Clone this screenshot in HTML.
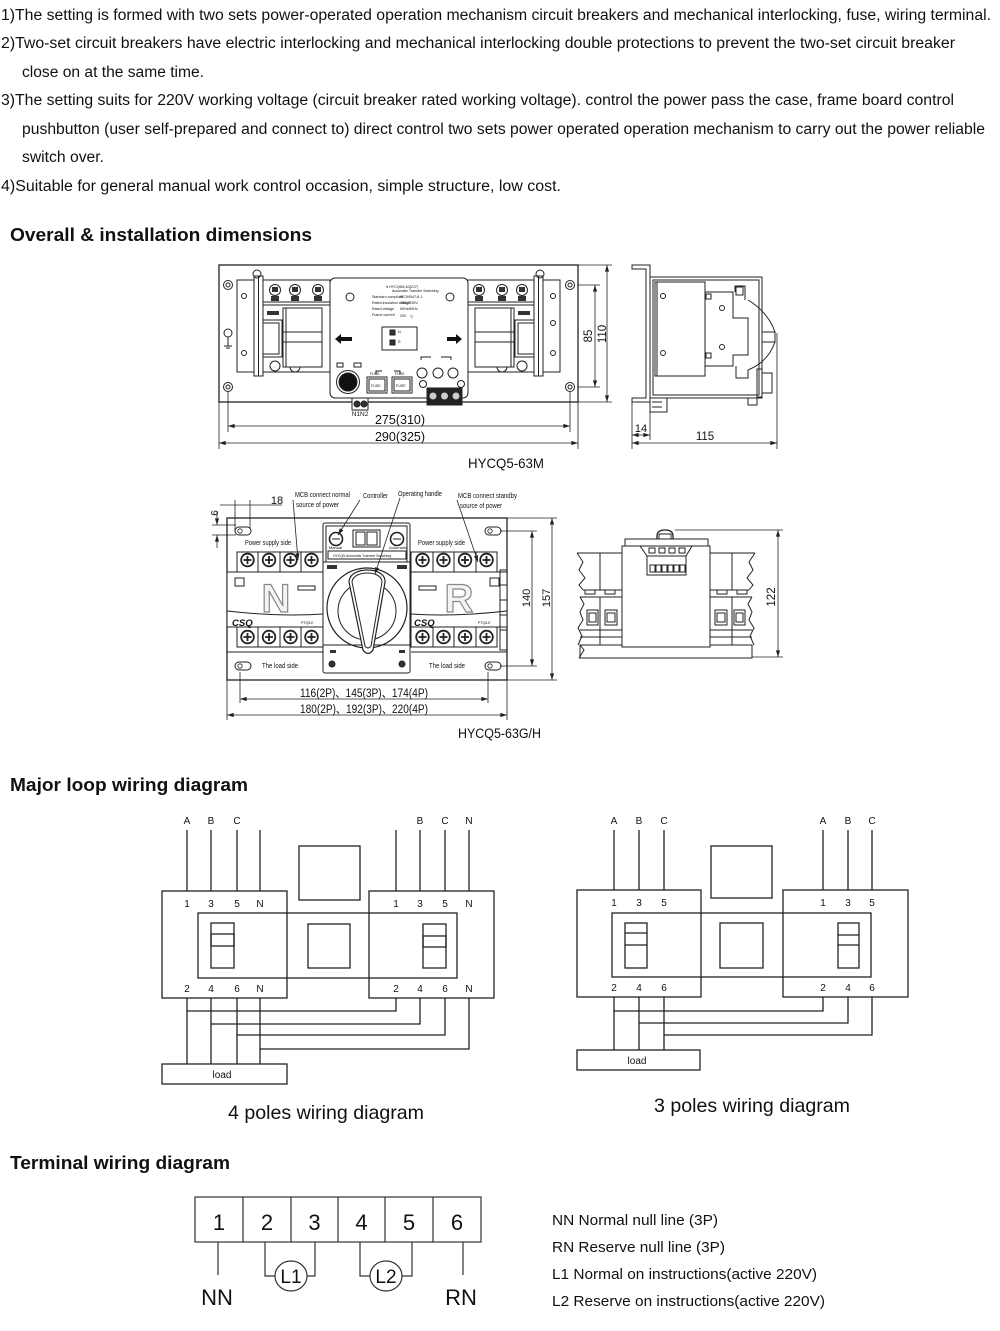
<!DOCTYPE html>
<html><head><meta charset="utf-8"><style>
html,body{margin:0;padding:0;background:#fff;}
svg{display:block}
text{font-family:"Liberation Sans","Noto Sans CJK SC",sans-serif;fill:#111}
</style></head><body>
<svg width="1000" height="1331" viewBox="0 0 1000 1331" xmlns="http://www.w3.org/2000/svg">
<defs>
<marker id="a" viewBox="0 0 8 6" refX="8" refY="3" markerWidth="7" markerHeight="5" markerUnits="userSpaceOnUse" orient="auto-start-reverse"><path d="M0,0.5 L8,3 L0,5.5z" fill="#222"/></marker>
<g id="sc"><circle r="6.3" fill="#fff" stroke="#222" stroke-width="1.8"/><path d="M-4,0H4M0,-4V4" stroke="#222" stroke-width="1.8"/></g>
<g id="kh"><rect x="-8" y="-4" width="16" height="8" rx="4" fill="#fff" stroke="#222" stroke-width="1"/><circle cx="-3" cy="0" r="2.2" fill="none" stroke="#222" stroke-width="0.8"/></g>
<!-- 63M breaker (left) -->
<g id="b63" fill="none" stroke="#222" stroke-width="1">
<rect x="237" y="280" width="93" height="92"/>
<line x1="263" y1="302" x2="330" y2="302"/>
<line x1="263" y1="305" x2="330" y2="305"/>
<circle cx="275" cy="366" r="5" fill="#fff"/><circle cx="295" cy="367" r="5" fill="#fff"/>
<g fill="#fff"><circle cx="275" cy="290" r="5.5"/><circle cx="295" cy="290" r="5.5"/><circle cx="318" cy="290" r="5.5"/></g>
<g fill="#333" stroke="none"><rect x="272" y="287" width="6" height="5"/><rect x="292" y="287" width="6" height="5"/><rect x="315" y="287" width="6" height="5"/>
<rect x="271" y="296" width="8" height="5"/><rect x="291" y="296" width="8" height="5"/><rect x="314" y="296" width="8" height="5"/>
<rect x="267" y="311" width="12" height="4"/></g>
<rect x="283" y="308" width="39" height="59" fill="#fff"/>
<line x1="283" y1="332" x2="322" y2="332"/><line x1="283" y1="342" x2="322" y2="342"/>
<line x1="286" y1="308" x2="286" y2="367"/>
<rect x="255" y="320" width="27" height="37" fill="#fff"/>
<rect x="258" y="323" width="21" height="31"/>
<rect x="254" y="276" width="9" height="100" fill="#fff"/>
<line x1="258.5" y1="276" x2="258.5" y2="376"/>
</g>
<!-- G/H breaker (left) -->
<g id="bgh" fill="none" stroke="#222" stroke-width="1">
<rect x="237" y="552" width="86" height="20"/>
<line x1="258" y1="552" x2="258" y2="572"/><line x1="280" y1="552" x2="280" y2="572"/><line x1="301" y1="552" x2="301" y2="572"/>
<rect x="227" y="572" width="96" height="55" fill="#fff"/>
<path d="M227,611 Q280,617 323,614"/>
<rect x="235" y="578" width="9" height="8"/>
<rect x="298" y="586" width="17" height="4"/>
<rect x="237" y="627" width="86" height="20"/>
<line x1="258" y1="627" x2="258" y2="647"/><line x1="280" y1="627" x2="280" y2="647"/><line x1="301" y1="627" x2="301" y2="647"/>
<line x1="227" y1="652" x2="323" y2="652"/>
<use href="#sc" x="247.5" y="560"/><use href="#sc" x="269" y="560"/><use href="#sc" x="290.5" y="560"/><use href="#sc" x="311.5" y="560"/>
<use href="#sc" x="247.5" y="637"/><use href="#sc" x="269" y="637"/><use href="#sc" x="290.5" y="637"/><use href="#sc" x="311.5" y="637"/>
</g>
<!-- GH side wing (left) -->
<g id="wing" fill="none" stroke="#222" stroke-width="1">
<path d="M577,553 H622 M577,553 L583,562 L579,570 L585,578 L579,585 L583,590"/>
<line x1="600" y1="553" x2="600" y2="590"/>
<path d="M583,590 H622 M580,597 H622"/>
<rect x="585" y="590" width="10" height="4"/><rect x="605" y="590" width="10" height="4"/>
<path d="M580,597 L584,604 L580,612 L583,620 L578,628 L582,636 L578,645"/>
<rect x="587" y="610" width="11" height="15"/><rect x="605" y="610" width="12" height="15"/>
<rect x="589" y="613" width="7" height="9"/><rect x="607" y="613" width="8" height="9"/>
<line x1="600" y1="597" x2="600" y2="645"/>
<path d="M580,630 H622 M580,637 H622"/>
</g>
</defs>

<!-- ============ TOP TEXT ============ -->
<g font-size="15.5">
<text x="1" y="20" textLength="990" lengthAdjust="spacingAndGlyphs">1)The setting is formed with two sets power-operated operation mechanism circuit breakers and mechanical interlocking, fuse, wiring terminal.</text>
<text x="1" y="48" textLength="954" lengthAdjust="spacingAndGlyphs">2)Two-set circuit breakers have electric interlocking and mechanical interlocking double protections to prevent the two-set circuit breaker</text>
<text x="22" y="77" textLength="182" lengthAdjust="spacingAndGlyphs">close on at the same time.</text>
<text x="1" y="105" textLength="953" lengthAdjust="spacingAndGlyphs">3)The setting suits for 220V working voltage (circuit breaker rated working voltage). control the power pass the case, frame board control</text>
<text x="22" y="134" textLength="963" lengthAdjust="spacingAndGlyphs">pushbutton (user self-prepared and connect to) direct control two sets power operated operation mechanism to carry out the power reliable</text>
<text x="22" y="162" textLength="82" lengthAdjust="spacingAndGlyphs">switch over.</text>
<text x="1" y="191" textLength="560" lengthAdjust="spacingAndGlyphs">4)Suitable for general manual work control occasion, simple structure, low cost.</text>
</g>

<g font-size="18" font-weight="bold">
<text x="10" y="241" textLength="302" lengthAdjust="spacingAndGlyphs">Overall &amp; installation dimensions</text>
<text x="10" y="791" textLength="238" lengthAdjust="spacingAndGlyphs">Major loop wiring diagram</text>
<text x="10" y="1169" textLength="220" lengthAdjust="spacingAndGlyphs">Terminal wiring diagram</text>
</g>

<!-- ============ HYCQ5-63M FRONT ============ -->
<g fill="none" stroke="#222" stroke-width="1">
<rect x="219" y="265" width="359" height="137" stroke-width="1.3"/>
<use href="#b63"/>
<use href="#b63" transform="matrix(-1,0,0,1,797,0)"/>
<!-- holes -->
<circle cx="228" cy="285" r="4.5"/><circle cx="228" cy="285" r="2"/>
<circle cx="228" cy="387" r="4.5"/><circle cx="228" cy="387" r="2"/>
<circle cx="570" cy="285" r="4.5"/><circle cx="570" cy="285" r="2"/>
<circle cx="570" cy="387" r="4.5"/><circle cx="570" cy="387" r="2"/>
<circle cx="257" cy="274" r="4"/><circle cx="540" cy="274" r="4"/>
<circle cx="244" cy="296" r="2.5"/><circle cx="244" cy="353" r="2.5"/>
<circle cx="553" cy="296" r="2.5"/><circle cx="553" cy="353" r="2.5"/><circle cx="553" cy="323" r="2.5"/>
<!-- ground -->
<circle cx="228" cy="333" r="4"/><path d="M228,337 V346 M224,346 H232 M226,348 H230"/>
<!-- controller -->
<rect x="330" y="278" width="138" height="120" rx="5" fill="#fff"/>
<circle cx="350" cy="297" r="4"/><circle cx="450" cy="297" r="4"/>
<rect x="382" y="327" width="35" height="23"/>
<rect x="390" y="330" width="5" height="5" fill="#333"/><rect x="390" y="340" width="5" height="5" fill="#333"/>
<path d="M337,367 h6 v-4 h-6z M354,367 h7 v-4 h-7z"/>
<circle cx="348" cy="382" r="11.5"/>
<circle cx="348" cy="382" r="9" fill="#111"/>
<path d="M376,374 v-3 h6 M394,371 h6 v3"/>
<rect x="367" y="377" width="20" height="16"/><rect x="369" y="379" width="16" height="12"/>
<rect x="392" y="377" width="20" height="16"/><rect x="394" y="379" width="16" height="12"/>
<path d="M421,360 v-3 h10 M441,357 h10 v3"/>
<circle cx="422" cy="373" r="5"/><circle cx="438" cy="373" r="5"/><circle cx="453" cy="373" r="5"/>
<circle cx="423" cy="384" r="3.5"/><circle cx="461" cy="384" r="3.5"/>
<rect x="427" y="388" width="35" height="17" fill="#222"/>
<circle cx="433" cy="396" r="4" fill="#ccc"/><circle cx="444.5" cy="396" r="4" fill="#ccc"/><circle cx="456" cy="396" r="4" fill="#ccc"/>
<rect x="352" y="398" width="16" height="12" fill="#fff"/>
<circle cx="357" cy="404" r="3" fill="#333"/><circle cx="364" cy="404" r="3" fill="#333"/>
<!-- dimensions -->
<g stroke-width="0.8">
<path d="M578,265 H612 M578,402 H612 M578,285 H600 M578,387 H600"/>
<line x1="595" y1="285" x2="595" y2="387" marker-start="url(#a)" marker-end="url(#a)"/>
<line x1="607" y1="265" x2="607" y2="402" marker-start="url(#a)" marker-end="url(#a)"/>
<path d="M228,392 V432 M570,392 V432 M219,402 V449 M578,402 V449"/>
<line x1="228" y1="426" x2="570" y2="426" marker-start="url(#a)" marker-end="url(#a)"/>
<line x1="219" y1="443" x2="578" y2="443" marker-start="url(#a)" marker-end="url(#a)"/>
</g>
</g>
<polygon points="335,339 341,334 341,337 352,337 352,341 341,341 341,344" fill="#111"/>
<polygon points="462,339 456,334 456,337 447,337 447,341 456,341 456,344" fill="#111"/>
<g font-size="3.6" fill="#333">
<text x="386" y="288">● HYCQ5M-63(ZJ7)</text>
<text x="392" y="292">Automatic Transfer Switching</text>
<text x="372" y="298">Standard compliant</text><text x="400" y="298">IEC60947-6-1</text>
<text x="372" y="304">Rated insulation voltage</text><text x="400" y="304">400V/230V</text>
<text x="372" y="310">Rated voltage</text><text x="400" y="310">50Hz/60Hz</text>
<text x="372" y="316">Frame current</text><text x="400" y="317">200</text><text x="410" y="318">℃</text>
<text x="398" y="333">N</text><text x="398" y="343">R</text>
<text x="370" y="375">FUSE</text><text x="395" y="375">FUSE</text>
<text x="371" y="387">FUSE</text><text x="396" y="387">FUSE</text>
</g>
<text x="360" y="416" font-size="6.5" text-anchor="middle">N1N2</text>
<g transform="translate(592,336) rotate(-90)"><text x="0" y="0" font-size="11.5" text-anchor="middle">85</text></g>
<g transform="translate(606,334) rotate(-90)"><text x="0" y="0" font-size="11.5" text-anchor="middle">110</text></g>
<text x="400" y="424" font-size="12.5" text-anchor="middle">275(310)</text>
<text x="400" y="441" font-size="12.5" text-anchor="middle">290(325)</text>
<text x="468" y="468" font-size="14" textLength="76" lengthAdjust="spacingAndGlyphs">HYCQ5-63M</text>

<!-- ============ 63M SIDE VIEW ============ -->
<g fill="none" stroke="#222" stroke-width="1">
<path d="M632,265 H650 V402 H632 V398 H646 V269 H632 Z" fill="#fff"/>
<rect x="650" y="277" width="112" height="121"/>
<rect x="653" y="280" width="106" height="115"/>
<path d="M655,282 H705 V292 H733 V318 H748 V355 H733 V366 H705 V376 H655 Z" fill="#fff"/>
<line x1="657" y1="282" x2="657" y2="376"/>
<path d="M705,292 V366"/>
<rect x="706" y="294" width="5" height="5"/><rect x="706" y="353" width="5" height="5"/>
<path d="M735,292 V286 H745 V300 M748,300 Q768,312 775,332 M775,342 Q768,362 748,370"/>
<rect x="736" y="287" width="7" height="8"/>
<rect x="762" y="332" width="13" height="10"/>
<path d="M736,366 V378 H748 V370"/>
<rect x="762" y="373" width="10" height="20"/><rect x="757" y="369" width="5" height="28"/>
<circle cx="663" cy="296" r="2.5"/><circle cx="663" cy="353" r="2.5"/>
<circle cx="722" cy="308" r="2.5"/><circle cx="722" cy="347" r="2.5"/>
<rect x="650" y="398" width="17" height="14"/><path d="M652,402 h10 M652,407 h10"/>
<rect x="748" y="398" width="9" height="7"/>
<g stroke-width="0.8">
<path d="M632,402 V449 M650,412 V440 M777,333 V449"/>
<line x1="632" y1="435" x2="650" y2="435" marker-start="url(#a)" marker-end="url(#a)"/>
<line x1="632" y1="443" x2="777" y2="443" marker-start="url(#a)" marker-end="url(#a)"/>
</g>
</g>
<text x="641" y="432" font-size="11" text-anchor="middle">14</text>
<text x="705" y="440" font-size="11.5" text-anchor="middle">115</text>

<!-- ============ HYCQ5-63G/H FRONT ============ -->
<g fill="none" stroke="#222" stroke-width="1">
<rect x="227" y="518" width="280" height="162" stroke-width="1.3"/>
<use href="#kh" x="243" y="531"/><use href="#kh" x="493" y="531"/>
<use href="#kh" x="243" y="666"/><use href="#kh" x="493" y="666"/>
<use href="#bgh"/>
<use href="#bgh" transform="matrix(-1,0,0,1,734,0)"/>
<rect x="500" y="570" width="7" height="80"/><path d="M500,585 h7 M500,600 h7 M500,615 h7 M500,630 h7"/>
<!-- controller -->
<rect x="323" y="523" width="87" height="150" rx="2" fill="#fff"/>
<rect x="326" y="526" width="81" height="36"/>
<circle cx="336" cy="539" r="6.5" stroke-width="1.6"/><path d="M332,539 h8"/>
<circle cx="397" cy="539" r="6.5" stroke-width="1.6"/><path d="M393,539 h8"/>
<rect x="353" y="530" width="27" height="17"/><rect x="356" y="532" width="9" height="13"/><rect x="367" y="532" width="10" height="13"/>
<rect x="328" y="551" width="78" height="8"/>
<path d="M323,562 H410 M323,645 H410"/>
<circle cx="367" cy="608" r="40" stroke-width="1.2"/>
<circle cx="367" cy="611" r="29"/>
<path d="M349,582 C349,566 386,566 385,582 L373,650 Q368,657 363,650 Z" fill="#fff" stroke-width="1.2"/>
<path d="M352,582 C353,570 382,570 382,582 L371,646 Q368,650 365,646 Z"/>
<circle cx="332" cy="664" r="3" fill="#333"/><circle cx="402" cy="664" r="3" fill="#333"/>
<!-- leaders -->
<g stroke-width="0.8">
<line x1="293" y1="500" x2="298" y2="560" marker-end="url(#a)"/>
<line x1="360" y1="500" x2="338" y2="535" marker-end="url(#a)"/>
<line x1="400" y1="498" x2="375" y2="574" marker-end="url(#a)"/>
<line x1="457" y1="500" x2="478" y2="562" marker-end="url(#a)"/>
<!-- dims -->
<path d="M220,505 H282 M235,500 V531 M250,500 V529"/>
<path d="M212,525 H236 M212,535 H236"/>
<line x1="217" y1="512" x2="217" y2="525" marker-end="url(#a)"/>
<line x1="217" y1="548" x2="217" y2="535" marker-end="url(#a)"/>
<path d="M500,531 H537 M500,666 H537 M507,518 H557 M507,680 H557"/>
<line x1="532" y1="531" x2="532" y2="666" marker-start="url(#a)" marker-end="url(#a)"/>
<line x1="552" y1="518" x2="552" y2="680" marker-start="url(#a)" marker-end="url(#a)"/>
<path d="M240,672 V703 M488,672 V703 M227,680 V720 M507,680 V720"/>
<line x1="240" y1="699" x2="488" y2="699" marker-start="url(#a)" marker-end="url(#a)"/>
<line x1="227" y1="715" x2="507" y2="715" marker-start="url(#a)" marker-end="url(#a)"/>
</g>
</g>
<g font-size="6" fill="#444">
<text x="329" y="549" font-size="4">Manual</text><text x="389" y="549" font-size="4">Automatic</text>
<text x="333" y="557" font-size="3.5">HYCQ5 Automatic Transfer Switching</text>
<rect x="327" y="565" width="10" height="4" fill="#333"/><rect x="397" y="565" width="10" height="4" fill="#333"/>
<rect x="330" y="650" width="6" height="3" fill="#333"/><rect x="399" y="650" width="6" height="3" fill="#333"/>
</g>
<text x="276" y="612" font-size="40" font-weight="bold" text-anchor="middle" style="fill:#f4f4f4;stroke:#888;stroke-width:1.2">N</text>
<text x="459" y="612" font-size="40" font-weight="bold" text-anchor="middle" style="fill:#f4f4f4;stroke:#888;stroke-width:1.2">R</text>
<text x="232" y="626" font-size="9.5" font-weight="bold" font-style="italic">CSQ</text>
<text x="414" y="626" font-size="9.5" font-weight="bold" font-style="italic">CSQ</text>
<text x="301" y="624" font-size="3.5">PTQ5-E</text><text x="478" y="624" font-size="3.5">PTQ5-E</text>
<g font-size="7.5">
<text x="245" y="545" textLength="46" lengthAdjust="spacingAndGlyphs">Power supply side</text>
<text x="418" y="545" textLength="47" lengthAdjust="spacingAndGlyphs">Power supply side</text>
<text x="262" y="668" textLength="36" lengthAdjust="spacingAndGlyphs">The load side</text>
<text x="429" y="668" textLength="36" lengthAdjust="spacingAndGlyphs">The load side</text>
<text x="295" y="497" textLength="55" lengthAdjust="spacingAndGlyphs">MCB connect normal</text>
<text x="296" y="507" textLength="43" lengthAdjust="spacingAndGlyphs">source of power</text>
<text x="363" y="498" textLength="25" lengthAdjust="spacingAndGlyphs">Controller</text>
<text x="398" y="496" textLength="44" lengthAdjust="spacingAndGlyphs">Operating handle</text>
<text x="458" y="498" textLength="59" lengthAdjust="spacingAndGlyphs">MCB connect standby</text>
<text x="460" y="508" textLength="42" lengthAdjust="spacingAndGlyphs">source of power</text>
</g>
<text x="277" y="504" font-size="11" text-anchor="middle">18</text>
<g transform="translate(218,513) rotate(-90)"><text x="0" y="0" font-size="10" text-anchor="middle">6</text></g>
<g transform="translate(530,598) rotate(-90)"><text x="0" y="0" font-size="11" text-anchor="middle">140</text></g>
<g transform="translate(550,598) rotate(-90)"><text x="0" y="0" font-size="11" text-anchor="middle">157</text></g>
<text x="364" y="697" font-size="11.5" text-anchor="middle" textLength="128" lengthAdjust="spacingAndGlyphs">116(2P)、145(3P)、174(4P)</text>
<text x="364" y="713" font-size="11.5" text-anchor="middle" textLength="128" lengthAdjust="spacingAndGlyphs">180(2P)、192(3P)、220(4P)</text>
<text x="458" y="738" font-size="13.5" textLength="83" lengthAdjust="spacingAndGlyphs">HYCQ5-63G/H</text>

<!-- ============ G/H SIDE ============ -->
<g fill="none" stroke="#222" stroke-width="1">
<use href="#wing"/>
<use href="#wing" transform="matrix(-1,0,0,1,1332,0)"/>
<path d="M580,645 H752 V658 H580 Z" fill="#fff"/>
<path d="M580,645 L584,650 L579,658"/>
<rect x="622" y="546" width="88" height="101" fill="#fff"/>
<rect x="625" y="539" width="83" height="7" fill="#fff"/>
<path d="M657,539 V536 Q657,530 665,530 Q673,530 673,536 V539" stroke-width="1.3"/>
<rect x="659" y="534" width="12" height="5"/>
<path d="M640,546 L647,556 H686 L692,546"/>
<rect x="647" y="556" width="39" height="19"/>
<path d="M649,548 h6 v5 h-6z M659,548 h6 v5 h-6z M669,548 h6 v5 h-6z M679,548 h6 v5 h-6z"/>
<path d="M650,565 h5 v7 h-5z M656,565 h5 v7 h-5z M662,565 h5 v7 h-5z M668,565 h5 v7 h-5z M674,565 h5 v7 h-5z M680,565 h5 v7 h-5z"/>
<g stroke-width="0.8">
<path d="M675,530 H783 M752,657 H783"/>
<line x1="778" y1="530" x2="778" y2="657" marker-start="url(#a)" marker-end="url(#a)"/>
</g>
</g>
<g transform="translate(775,597) rotate(-90)"><text x="0" y="0" font-size="11.5" text-anchor="middle">122</text></g>

<!-- ============ 4 POLES ============ -->
<g fill="none" stroke="#222" stroke-width="1.3">
<path d="M187,830 V891 M211,830 V891 M237,830 V891 M260,830 V891"/>
<path d="M396,830 V891 M420,830 V891 M445,830 V891 M469,830 V891"/>
<rect x="162" y="891" width="125" height="107"/>
<rect x="369" y="891" width="125" height="107"/>
<rect x="198" y="913" width="259" height="65"/>
<rect x="211" y="923" width="23" height="45"/><rect x="211" y="934" width="23" height="12"/>
<rect x="423" y="924" width="23" height="44"/><rect x="423" y="936" width="23" height="11"/>
<rect x="299" y="846" width="61" height="54"/>
<rect x="308" y="924" width="42" height="44"/>
<path d="M187,998 V1064 M211,998 V1064 M237,998 V1064 M260,998 V1064"/>
<path d="M187,1011 H396 V998 M211,1024 H420 V998 M237,1035 H445 V998 M260,1049 H469 V998"/>
<rect x="162" y="1064" width="125" height="20"/>
</g>
<g font-size="10" text-anchor="middle">
<text x="187" y="824">A</text><text x="211" y="824">B</text><text x="237" y="824">C</text>
<text x="420" y="824">B</text><text x="445" y="824">C</text><text x="469" y="824">N</text>
<text x="187" y="907">1</text><text x="211" y="907">3</text><text x="237" y="907">5</text><text x="260" y="907">N</text>
<text x="396" y="907">1</text><text x="420" y="907">3</text><text x="445" y="907">5</text><text x="469" y="907">N</text>
<text x="187" y="992">2</text><text x="211" y="992">4</text><text x="237" y="992">6</text><text x="260" y="992">N</text>
<text x="396" y="992">2</text><text x="420" y="992">4</text><text x="445" y="992">6</text><text x="469" y="992">N</text>
<text x="222" y="1078">load</text>
</g>
<text x="228" y="1119" font-size="19.5" textLength="196" lengthAdjust="spacingAndGlyphs">4 poles wiring diagram</text>

<!-- ============ 3 POLES ============ -->
<g fill="none" stroke="#222" stroke-width="1.3">
<path d="M614,830 V890 M639,830 V890 M664,830 V890"/>
<path d="M823,830 V890 M848,830 V890 M872,830 V890"/>
<rect x="577" y="890" width="124" height="107"/>
<rect x="783" y="890" width="125" height="107"/>
<rect x="612" y="913" width="259" height="64"/>
<rect x="625" y="923" width="22" height="45"/><path d="M625,933 H647 M625,945 H647"/>
<rect x="838" y="923" width="21" height="45"/><path d="M838,935 H859 M838,945 H859"/>
<rect x="711" y="846" width="61" height="52"/>
<rect x="720" y="923" width="43" height="45"/>
<path d="M614,997 V1050 M639,997 V1050 M664,997 V1050"/>
<path d="M614,1011 H823 V997 M639,1023 H848 V997 M664,1035 H872 V997"/>
<rect x="577" y="1050" width="123" height="20"/>
</g>
<g font-size="10" text-anchor="middle">
<text x="614" y="824">A</text><text x="639" y="824">B</text><text x="664" y="824">C</text>
<text x="823" y="824">A</text><text x="848" y="824">B</text><text x="872" y="824">C</text>
<text x="614" y="906">1</text><text x="639" y="906">3</text><text x="664" y="906">5</text>
<text x="823" y="906">1</text><text x="848" y="906">3</text><text x="872" y="906">5</text>
<text x="614" y="991">2</text><text x="639" y="991">4</text><text x="664" y="991">6</text>
<text x="823" y="991">2</text><text x="848" y="991">4</text><text x="872" y="991">6</text>
<text x="637" y="1064">load</text>
</g>
<text x="654" y="1112" font-size="19.5" textLength="196" lengthAdjust="spacingAndGlyphs">3 poles wiring diagram</text>

<!-- ============ TERMINAL ============ -->
<g fill="none" stroke="#333" stroke-width="1.2">
<rect x="195" y="1197" width="286" height="45"/>
<path d="M243,1197 V1242 M291,1197 V1242 M338,1197 V1242 M385,1197 V1242 M433,1197 V1242"/>
<path d="M218,1242 V1275 M463,1242 V1275"/>
<path d="M265,1242 V1276 H275 M307,1276 H315 V1242"/>
<ellipse cx="291" cy="1276" rx="16" ry="15"/>
<path d="M360,1242 V1276 H370 M402,1276 H412 V1242"/>
<ellipse cx="386" cy="1276" rx="16" ry="15"/>
</g>
<g font-size="22" text-anchor="middle">
<text x="219" y="1230">1</text><text x="267" y="1230">2</text><text x="314.5" y="1230">3</text>
<text x="361.5" y="1230">4</text><text x="409" y="1230">5</text><text x="457" y="1230">6</text>
<text x="217" y="1305">NN</text><text x="461" y="1305">RN</text>
<text x="291" y="1283" font-size="19">L1</text><text x="386" y="1283" font-size="19">L2</text>
</g>
<g font-size="15">
<text x="552" y="1225" textLength="166" lengthAdjust="spacingAndGlyphs">NN Normal null line (3P)</text>
<text x="552" y="1252" textLength="173" lengthAdjust="spacingAndGlyphs">RN Reserve null line (3P)</text>
<text x="552" y="1279" textLength="265" lengthAdjust="spacingAndGlyphs">L1 Normal on instructions(active 220V)</text>
<text x="552" y="1306" textLength="273" lengthAdjust="spacingAndGlyphs">L2 Reserve on instructions(active 220V)</text>
</g>
</svg>
</body></html>
